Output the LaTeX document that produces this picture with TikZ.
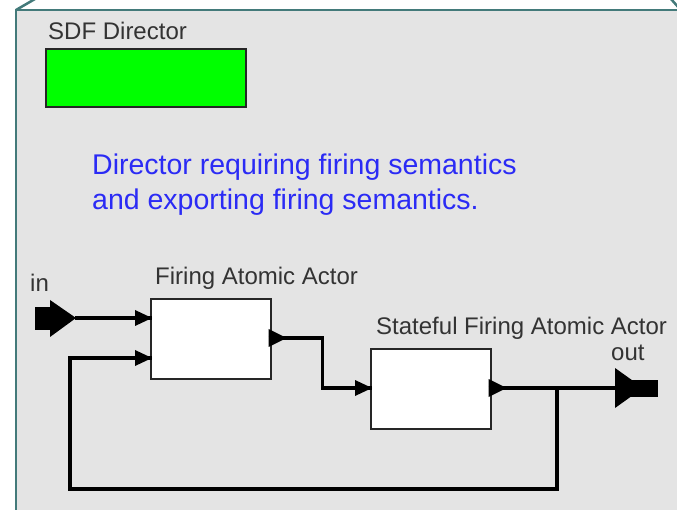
\documentclass[tikz,border=0pt]{standalone}
\usepackage{fontspec}
\setmainfont{Liberation Sans}
\usetikzlibrary{positioning,calc}
\definecolor{panelgray}{HTML}{E4E4E4}
\definecolor{panelteal}{HTML}{437A7A}
\definecolor{notetext}{HTML}{2B2BF5}
\definecolor{dirgreen}{HTML}{00FF00}

\begin{document}
\begin{tikzpicture}[
    x=1pt, y=-1pt,
    labeltext/.style={font=\fontsize{24}{28}\selectfont, text=black!80, inner sep=0pt, anchor=base west},
    notelabel/.style={font=\fontsize{28.5}{35}\selectfont, text=notetext, inner sep=0pt, anchor=base west},
    actorbox/.style={
        draw=black!85,
        fill=white,
        line width=1.6pt,
        minimum width=120pt,
        minimum height=80pt,
        inner sep=0pt,
        anchor=north west
    },
    directorbox/.style={draw=black!85, fill=dirgreen, line width=1.6pt, minimum width=200pt, minimum height=58pt, inner sep=0pt, anchor=north west},
    wire/.style={draw=black, line width=3.4pt, line join=miter},
    porttip/.style={fill=black}
]
\useasboundingbox (0,0) rectangle (677,510);

% panel of the composite actor
\fill[panelgray] (16,10) rectangle (690,520);
\draw[panelteal, line width=2.5pt] (16,515) -- (16,10) -- (690,10);
\draw[panelteal, line width=2.5pt] (16,10) -- (35,-1);
\draw[panelteal, line width=2.5pt] (671,-1) -- (679,8);

% director
\node[labeltext] (dirlabel) at (48,40) {SDF Director};
\node[directorbox] (director) at (45,48) {};
\node[notelabel] (note1) at (92,175) {Director requiring firing semantics};
\node[notelabel] (note2) at (92,210) {and exporting firing semantics.};

% actors
\node[actorbox] (fire) at (150,298) {};
\node[actorbox] (stateful) at (370,348) {};
\node[labeltext] (firelabel) at (155,285) {Firing Atomic Actor};
\node[labeltext] (statelabel) at (376,335) {Stateful Firing Atomic Actor};

% port positions
\coordinate (firein1) at ($(fire.north west)+(2,20)$);
\coordinate (firein2) at ($(fire.north west)+(2,60)$);
\coordinate (fireout) at ($(fire.north east)+(-3,40)$);
\coordinate (statein) at ($(stateful.north west)+(2,40)$);
\coordinate (stateout) at ($(stateful.north east)+(-3,40)$);
\coordinate (split) at (557,388);

% external ports
\node[labeltext] (inlabel) at (30,292) {in};
\node[labeltext] (outlabel) at (611,360) {out};
\fill (35,307) rectangle (51,330);
\fill (50,300) -- (76,318) -- (50,337) -- cycle;
\coordinate (inport) at (75,318);
\fill (615,368) -- (643,388) -- (615,408) -- cycle;
\fill (628,380) rectangle (658,397);
\coordinate (outport) at (616,388);

% connections
\draw[wire] (inport) -- (firein1);
\draw[wire] (fireout) -- ++(54,0) |- (statein);
\draw[wire] (stateout) -- (outport);
\draw[wire] (split) -- ++(0,101) -| (70,358) -- (firein2);
\fill (split) circle (2pt);

% actor ports
\foreach \p in {firein1,firein2,statein}
    \fill[porttip] (\p) -- ++(-17,-8) -- ++(0,16) -- cycle;
\foreach \p in {fireout,stateout}
    \fill[porttip] (\p) -- ++(0,-9) -- ++(18,9) -- ++(-18,9) -- cycle;
\end{tikzpicture}
\end{document}
